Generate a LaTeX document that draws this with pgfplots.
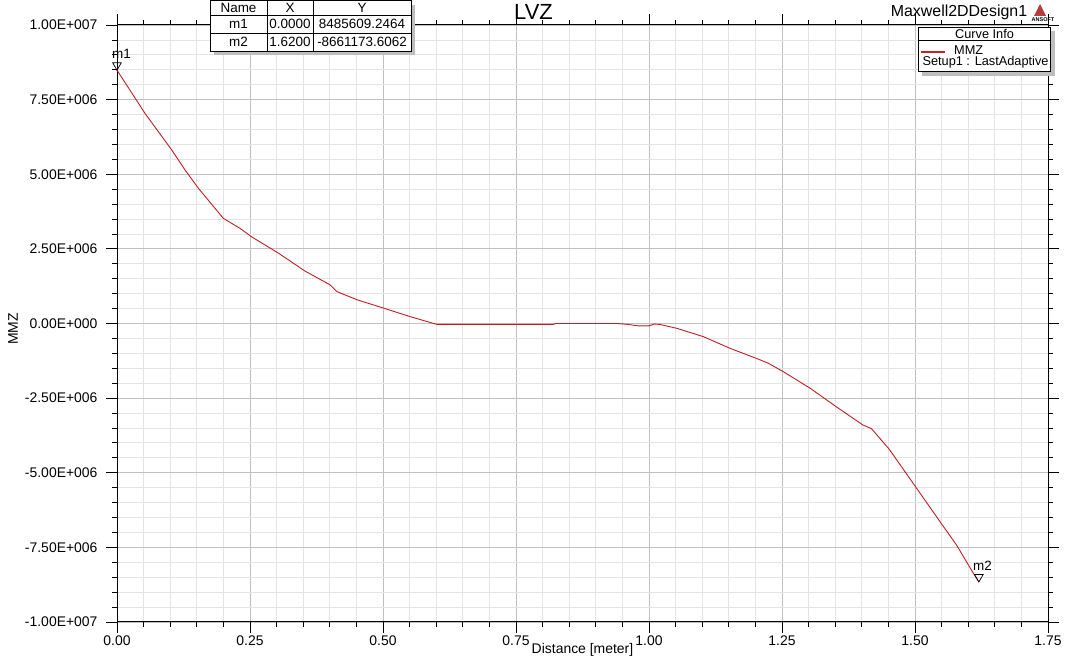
\documentclass[border=0pt]{standalone}
\usepackage{fontspec}
\setmainfont{Liberation Sans}
\usepackage{pgfplots}
\pgfplotsset{compat=1.18}
\definecolor{curvered}{RGB}{190,30,36}
\definecolor{legred}{RGB}{205,30,30}
\definecolor{majgrid}{RGB}{192,192,192}
\definecolor{mingrid}{RGB}{228,228,228}
\definecolor{shadow}{RGB}{190,190,190}
\definecolor{logored}{RGB}{180,60,60}
\newcommand{\fs}[1]{\fontsize{#1}{#1}\selectfont}
\begin{document}
\begin{tikzpicture}[x=1bp,y=1bp]
\path[use as bounding box, fill=white] (0,0) rectangle (1068,662);
\begin{axis}[
    at={(117bp,40bp)}, anchor=south west,
    scale only axis, width=931bp, height=597bp,
    xmin=0, xmax=1.75, ymin=-1e7, ymax=1e7,
    xtick={0,0.25,0.5,0.75,1,1.25,1.5,1.75},
    xticklabels={0.00,0.25,0.50,0.75,1.00,1.25,1.50,1.75},
    ytick={-1e7,-7.5e6,-5e6,-2.5e6,0,2.5e6,5e6,7.5e6,1e7},
    yticklabels={-1.00E+007,-7.50E+006,-5.00E+006,-2.50E+006,0.00E+000,2.50E+006,5.00E+006,7.50E+006,1.00E+007},
    scaled y ticks=false, scaled x ticks=false,
    minor x tick num=4, minor y tick num=4,
    grid=both,
    major grid style={majgrid, line width=0.8bp},
    minor grid style={mingrid, line width=0.8bp},
    tick align=outside,
    major tick length=11bp, minor tick length=5bp,
    tick style={black, line width=0.8bp},
    axis line style={black, line width=1bp},
    tick label style={font=\fs{14}},
    xticklabel style={yshift=1bp},
    yticklabel style={xshift=-5bp},
    clip=false,
]
\addplot[curvered, line width=0.9bp] coordinates {
    (0,8485609.2464) (0.0526,7.04e6) (0.103,5.81e6) (0.128,5.14e6)
    (0.153,4.53e6) (0.2,3.52e6) (0.231,3.19e6) (0.2525,2.91e6)
    (0.304,2.35e6) (0.353,1.76e6) (0.401,1.29e6) (0.413,1.07e6)
    (0.452,0.79e6) (0.502,0.51e6) (0.551,0.23e6) (0.601,-0.03e6)
    (0.82,-0.03e6) (0.825,0) (0.94,0) (0.96,-0.03e6)
    (0.98,-0.08e6) (1.0,-0.08e6) (1.01,-0.02e6) (1.02,-0.03e6)
    (1.052,-0.16e6) (1.102,-0.44e6) (1.152,-0.83e6) (1.202,-1.17e6)
    (1.224,-1.33e6) (1.252,-1.61e6) (1.303,-2.17e6) (1.352,-2.79e6)
    (1.402,-3.40e6) (1.418,-3.52e6) (1.45,-4.18e6) (1.459,-4.40e6)
    (1.503,-5.52e6) (1.547,-6.64e6) (1.578,-7.42e6) (1.606,-8.26e6)
    (1.62,-8661173.6062)
};
\addplot[only marks, mark=triangle, mark size=5bp,
    mark options={yshift=5bp, rotate=180, black, fill=white, line width=0.7bp}]
    coordinates {(0,8485609.2464) (1.62,-8661173.6062)};
\node[font=\fs{13.5}, anchor=base west, inner sep=0pt, xshift=-5bp, yshift=12bp]
    at (axis cs:0,8485609.2464) {m1};
\node[font=\fs{13.5}, anchor=base west, inner sep=0pt, xshift=-6bp, yshift=12bp]
    at (axis cs:1.62,-8661173.6062) {m2};
\end{axis}
% titles and labels
\node[font=\fs{22}] at (533.5,650) {LVZ};
\node[font=\fs{16}] at (959,650) {Maxwell2DDesign1};
\fill[logored] (1040,658) -- (1034,646) -- (1046,646) -- cycle;
\node[font=\fs{5.5}\bfseries, inner sep=0pt] at (1043,642) {ANSOFT};
\node[font=\fs{14}, rotate=90] at (13,333) {MMZ};
\node[font=\fs{14}] at (582.5,12) {Distance [meter]};
% marker table
\fill[shadow] (214,606.5) rectangle (415,657);
\fill[white] (210,610.5) rectangle (411,661.5);
\draw[black, line width=0.8bp] (210,610.5) rectangle (411,661.5);
\draw[black, line width=0.6bp] (267,610.5) -- (267,661.5) (313,610.5) -- (313,661.5)
    (210,647) -- (411,647) (210,629) -- (411,629);
\begin{scope}[font=\fs{13.5}]
\node at (238.5,654) {Name};
\node at (290,654) {X};
\node at (362,654) {Y};
\node at (238.5,638) {m1};
\node at (290,638) {0.0000};
\node at (362,638) {8485609.2464};
\node at (238.5,620) {m2};
\node at (290,620) {1.6200};
\node at (362,620) {-8661173.6062};
\end{scope}
% curve info box
\fill[shadow] (922,586) rectangle (1055,630.7);
\fill[white] (918,590.3) rectangle (1050.7,634.7);
\draw[black, line width=0.8bp] (918,590.3) rectangle (1050.7,634.7);
\draw[black, line width=0.6bp] (918,622) -- (1050.7,622);
\node[font=\fs{12.8}] at (984.5,628.3) {Curve Info};
\draw[legred, line width=2bp] (921,609.7) -- (945,609.7);
\node[font=\fs{12.8}, anchor=west, inner sep=0pt] at (954,612) {MMZ};
\node[font=\fs{12.8}] at (985.5,599.7) {Setup1 : LastAdaptive};
\end{tikzpicture}
\end{document}
